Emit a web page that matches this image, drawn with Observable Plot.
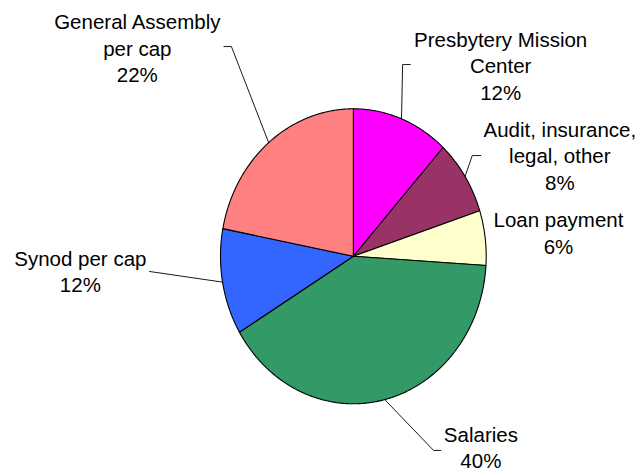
<!DOCTYPE html>
<html>
<head>
<meta charset="utf-8">
<script src="https://cdn.jsdelivr.net/npm/d3@7"></script>
<script src="https://cdn.jsdelivr.net/npm/@observablehq/plot@0.6"></script>
<style>
  html, body { margin: 0; padding: 0; background: #fff; }
  #chart svg { display: block; }
</style>
</head>
<body>
<div id="chart"></div>
<script>
// ---- data ----
const categories = ["Presbytery Mission Center", "Audit, insurance, legal, other", "Loan payment", "Salaries", "Synod per cap", "General Assembly per cap"];
const shares = [11.8, 8.2, 6.0, 40.4, 11.6, 22.0];
const colors = ["#FF00FF", "#993366", "#FFFFCC", "#339966", "#3366FF", "#FF8080"];
const labelLines = [["Presbytery Mission", "Center"], ["Audit, insurance,", "legal, other"], ["Loan payment"], ["Salaries"], ["Synod per cap"], ["General Assembly", "per cap"]];

// ---- label layout (pie units: radius = 1, y up) ----
const labelPos = [[1.109, 1.06], [1.554, 0.45], [1.544, 0.017], [0.960, -1.437], [-2.055, -0.243], [-1.626, 1.18]];
const leaderElbow = [[0.371, 1.30], [0.895, 0.683], null, [0.604, -1.316], [-1.534, -0.103], [-0.918, 1.422]];
const leaderEnd = [[0.429, 1.30], [0.960, 0.683], null, [0.659, -1.316], null, [-0.974, 1.422]];

// ---- geometry from data ----
const total = d3.sum(shares);
let acc = 0;
const slices = categories.map((name, i) => {
  const a0 = acc / total * 2 * Math.PI;
  acc += shares[i];
  const a1 = acc / total * 2 * Math.PI;
  return {name, value: shares[i], a0, a1, mid: (a0 + a1) / 2, i};
});

const piePts = [];
for (const s of slices) {
  piePts.push({name: s.name, x: 0, y: 0});
  const n = Math.max(2, Math.ceil((s.a1 - s.a0) / (Math.PI / 360)));
  for (let k = 0; k <= n; k++) {
    const a = s.a0 + (s.a1 - s.a0) * k / n;
    piePts.push({name: s.name, x: Math.sin(a), y: Math.cos(a)});
  }
  piePts.push({name: s.name, x: 0, y: 0});
}

const leaderPts = [];
for (const s of slices) {
  const e = leaderElbow[s.i];
  if (!e) continue;
  leaderPts.push({name: s.name, x: Math.sin(s.mid), y: Math.cos(s.mid)});
  leaderPts.push({name: s.name, x: e[0], y: e[1]});
  const f = leaderEnd[s.i];
  if (f) leaderPts.push({name: s.name, x: f[0], y: f[1]});
}

const labels = slices.map(s => ({
  x: labelPos[s.i][0],
  y: labelPos[s.i][1],
  text: labelLines[s.i].join("\n") + "\n" + Math.round(s.value) + "%"
}));

const chart = Plot.plot({
  width: 640,
  height: 472,
  margin: 0,
  x: {domain: [-1, 1], range: [220, 485.7], axis: null},
  y: {domain: [-1, 1], range: [403.3, 108.3], axis: null},
  color: {domain: categories, range: colors},
  style: {fontFamily: "Arial, 'Liberation Sans', sans-serif", background: "#fff"},
  marks: [
    Plot.line(piePts, {x: "x", y: "y", z: "name", fill: "name", stroke: "#000", strokeWidth: 1.1, strokeLinejoin: "round", curve: "linear"}),
    Plot.line(leaderPts, {x: "x", y: "y", z: "name", stroke: "#000", strokeWidth: 0.9, curve: "linear"}),
    Plot.text(labels, {x: "x", y: "y", text: "text", fontSize: 20.5, lineHeight: 1.3, lineAnchor: "bottom", textAnchor: "middle", fill: "#000"})
  ]
});
document.getElementById("chart").appendChild(chart);
</script>
</body>
</html>
